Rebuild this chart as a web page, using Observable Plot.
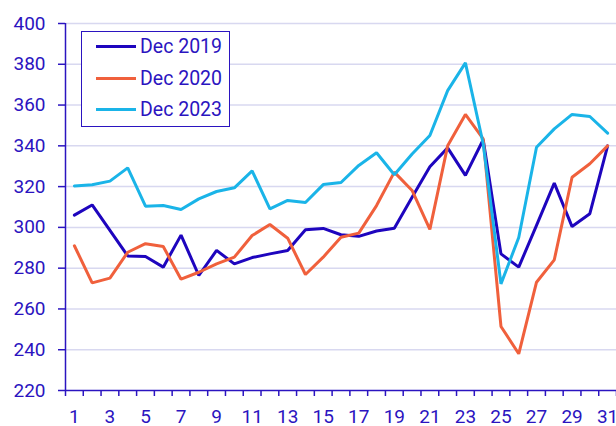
<!DOCTYPE html>
<html>
<head>
<meta charset="utf-8">
<script src="https://cdn.jsdelivr.net/npm/d3@7"></script>
<script src="https://cdn.jsdelivr.net/npm/@observablehq/plot@0.6"></script>
<style>
  html, body { margin: 0; padding: 0; background: #fff; }
  #chart { position: relative; width: 616px; height: 426px; }
  #chart svg { overflow: visible; }
  .legend { position: absolute; left: 81px; top: 31px; width: 149px; height: 96px;
    border: 1.5px solid #2b14c0; background: #fff; font-family: Roboto, sans-serif;
    font-size: 19.5px; color: #2b14c0; box-sizing: border-box; }
  .legend .row { position: absolute; left: 14px; display: flex; align-items: center; }
  .legend .sw { width: 40px; height: 3px; margin-right: 4px; }
</style>
</head>
<body>
<div id="chart"></div>
<script>
const days = d3.range(1, 32);
const seriesNames = ["Dec 2019", "Dec 2020", "Dec 2023"];
const colors = ["#1e05be", "#f0603c", "#1ab4e8"];
const dec2019 = [306, 311, 298.5, 286, 285.7, 280.5, 296.2, 276.4, 288.7, 282.1, 285.2, 287, 288.7, 298.8, 299.5, 296.4, 295.6, 298.2, 299.6, 314.8, 329.7, 339, 325.5, 343, 287, 280.5, 301, 321.7, 300.4, 306.7, 340];
const dec2020 = [291, 272.8, 275.1, 287.8, 292, 290.6, 274.6, 278, 282.1, 285.4, 296, 301.4, 294.7, 276.9, 285.4, 295.2, 297.2, 310.7, 327.1, 318.1, 299, 340, 355.4, 343.4, 251.4, 238, 273.1, 284.1, 324.6, 331.2, 340];
const dec2023 = [320.3, 320.9, 322.7, 329.2, 310.4, 310.7, 308.8, 314, 317.6, 319.4, 327.7, 309.1, 313.2, 312.2, 321, 322, 330.4, 336.6, 325.8, 336, 345.1, 367.1, 380.7, 341, 272.3, 295, 339.3, 348.3, 355.4, 354.4, 346.2];
const yTicks = [220, 240, 260, 280, 300, 320, 340, 360, 380, 400];
const xLabels = [1, 3, 5, 7, 9, 11, 13, 15, 17, 19, 21, 23, 25, 27, 29, 31];

const allSeries = [dec2019, dec2020, dec2023];
const data = [];
allSeries.forEach((vals, i) => vals.forEach((v, j) => data.push({day: days[j], value: v, series: seriesNames[i]})));

const axisColor = "#2b14c0";
const bounds = d3.range(0.5, 32, 1);

const plot = Plot.plot({
  width: 616,
  height: 426,
  marginTop: 23,
  marginBottom: 36,
  marginLeft: 65,
  marginRight: 0,
  style: {fontFamily: "Roboto, sans-serif", fontSize: "19px", color: axisColor, background: "#fff", overflow: "visible"},
  x: {domain: [0.5, 31.5]},
  y: {domain: [220, 400]},
  color: {domain: seriesNames, range: colors},
  marks: [
    Plot.gridY(yTicks.filter(t => t > 220), {stroke: "#d8d8f0", strokeOpacity: 1, strokeWidth: 1.5}),
    Plot.axisY({ticks: yTicks, tickSize: 7, tickPadding: 13, label: null, stroke: axisColor, strokeWidth: 1.5, fill: axisColor, fontSize: 19}),
    Plot.axisX({ticks: bounds, tickSize: 6, tickFormat: () => "", label: null, stroke: axisColor, strokeWidth: 1.5}),
    Plot.axisX({ticks: xLabels, tickSize: 0, tickPadding: 18.5, label: null, fill: axisColor, fontSize: 19}),
    Plot.ruleY([220], {stroke: axisColor, strokeWidth: 1.5}),
    Plot.ruleX([0.5], {stroke: axisColor, strokeWidth: 1.5}),
    Plot.line(data, {x: "day", y: "value", stroke: "series", z: "series", strokeWidth: 3, strokeLinejoin: "miter"})
  ]
});
const chart = document.getElementById("chart");
chart.appendChild(plot);

const legend = document.createElement("div");
legend.className = "legend";
seriesNames.forEach((name, i) => {
  const row = document.createElement("div");
  row.className = "row";
  row.style.top = (3 + i * 31.5) + "px";
  row.innerHTML = `<span class="sw" style="background:${colors[i]}"></span><span>${name}</span>`;
  legend.appendChild(row);
});
chart.appendChild(legend);
</script>
</body>
</html>
